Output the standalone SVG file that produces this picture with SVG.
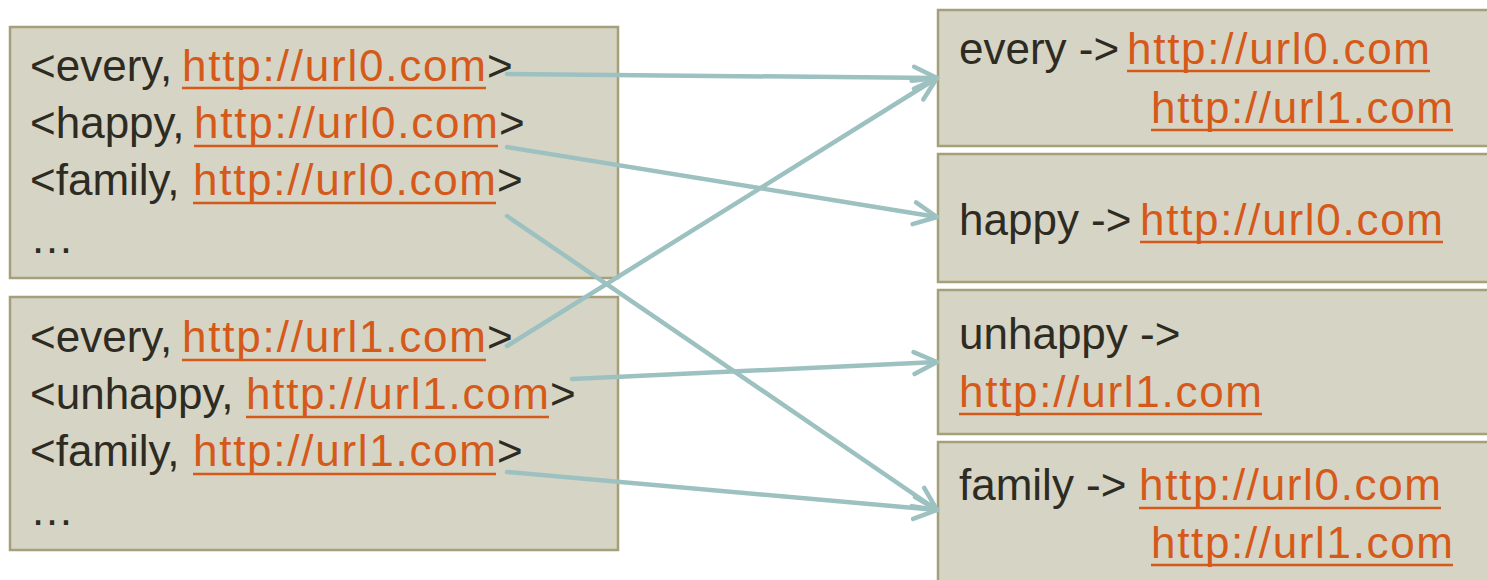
<svg xmlns="http://www.w3.org/2000/svg" width="1487" height="580" viewBox="0 0 1487 580">
  <style>
    .box { fill: #D6D4C5; stroke: #A5A07A; stroke-width: 2.5; }
    .t { font-family: "Liberation Sans", Arial, sans-serif; font-size: 44px; fill: #2E2B22; }
    .u { font-family: "Liberation Sans", Arial, sans-serif; font-size: 44px; fill: #D55A1A; }
    .ul { stroke: #D55A1A; stroke-width: 2.6; }
    .conn { stroke: #9DC1C1; stroke-width: 4.5; fill: none; stroke-linecap: round; marker-end: url(#head); }
  </style>
  <defs>
    <marker id="head" markerUnits="userSpaceOnUse" viewBox="-30 -16 36 32" refX="0" refY="0" markerWidth="36" markerHeight="32" orient="auto">
      <path d="M -23 -11 L 0 0 L -23 11" fill="none" stroke="#9DC1C1" stroke-width="4.5" stroke-linecap="round" stroke-linejoin="round"/>
    </marker>
  </defs>

  <!-- document 0 postings -->
  <g id="doc0">
    <rect class="box" x="10" y="27" width="608" height="251"/>
    <text class="t" x="30" y="81">&lt;every,</text>
    <text class="u" x="182" y="81" textLength="304">http://url0.com</text>
    <line class="ul" x1="182" y1="88" x2="486" y2="88"/>
    <text class="t" x="487" y="81">&gt;</text>

    <text class="t" x="30" y="138">&lt;happy,</text>
    <text class="u" x="194" y="138" textLength="304">http://url0.com</text>
    <line class="ul" x1="194" y1="146" x2="498" y2="146"/>
    <text class="t" x="499" y="138">&gt;</text>

    <text class="t" x="30" y="195">&lt;family,</text>
    <text class="u" x="193" y="195" textLength="303">http://url0.com</text>
    <line class="ul" x1="193" y1="203" x2="496" y2="203"/>
    <text class="t" x="497" y="195">&gt;</text>

    <text class="t" x="30" y="253">…</text>
  </g>

  <!-- document 1 postings -->
  <g id="doc1">
    <rect class="box" x="10" y="297" width="608" height="253"/>
    <text class="t" x="30" y="352">&lt;every,</text>
    <text class="u" x="182" y="352" textLength="304">http://url1.com</text>
    <line class="ul" x1="182" y1="360" x2="486" y2="360"/>
    <text class="t" x="487" y="352">&gt;</text>

    <text class="t" x="30" y="409">&lt;unhappy,</text>
    <text class="u" x="246" y="409" textLength="303">http://url1.com</text>
    <line class="ul" x1="246" y1="417" x2="549" y2="417"/>
    <text class="t" x="550" y="409">&gt;</text>

    <text class="t" x="30" y="466">&lt;family,</text>
    <text class="u" x="193" y="466" textLength="303">http://url1.com</text>
    <line class="ul" x1="193" y1="474" x2="496" y2="474"/>
    <text class="t" x="497" y="466">&gt;</text>

    <text class="t" x="30" y="525">…</text>
  </g>

  <!-- inverted index entries -->
  <g id="idx-every">
    <rect class="box" x="938" y="10" width="560" height="136"/>
    <text class="t" x="959" y="64">every -&gt;</text>
    <text class="u" x="1127" y="64" textLength="303">http://url0.com</text>
    <line class="ul" x1="1127" y1="71" x2="1430" y2="71"/>
    <text class="u" x="1151" y="123" textLength="302">http://url1.com</text>
    <line class="ul" x1="1151" y1="130" x2="1453" y2="130"/>
  </g>

  <g id="idx-happy">
    <rect class="box" x="938" y="154" width="560" height="128"/>
    <text class="t" x="959" y="235">happy -&gt;</text>
    <text class="u" x="1140" y="235" textLength="303">http://url0.com</text>
    <line class="ul" x1="1140" y1="242" x2="1443" y2="242"/>
  </g>

  <g id="idx-unhappy">
    <rect class="box" x="938" y="290" width="560" height="144"/>
    <text class="t" x="959" y="349">unhappy -&gt;</text>
    <text class="u" x="959" y="407" textLength="303">http://url1.com</text>
    <line class="ul" x1="959" y1="414" x2="1262" y2="414"/>
  </g>

  <g id="idx-family">
    <rect class="box" x="938" y="442" width="560" height="150"/>
    <text class="t" x="959" y="500">family -&gt;</text>
    <text class="u" x="1139" y="500" textLength="302">http://url0.com</text>
    <line class="ul" x1="1139" y1="508" x2="1441" y2="508"/>
    <text class="u" x="1151" y="558" textLength="302">http://url1.com</text>
    <line class="ul" x1="1151" y1="565" x2="1453" y2="565"/>
  </g>

  <!-- connectors -->
  <g id="connectors">
    <line class="conn" x1="507" y1="74" x2="937" y2="78"/>
    <line class="conn" x1="507" y1="147" x2="937" y2="217"/>
    <line class="conn" x1="507" y1="216" x2="937" y2="510"/>
    <line class="conn" x1="507" y1="346" x2="937" y2="78"/>
    <line class="conn" x1="572" y1="379" x2="937" y2="362"/>
    <line class="conn" x1="507" y1="472" x2="937" y2="510"/>
  </g>
</svg>
